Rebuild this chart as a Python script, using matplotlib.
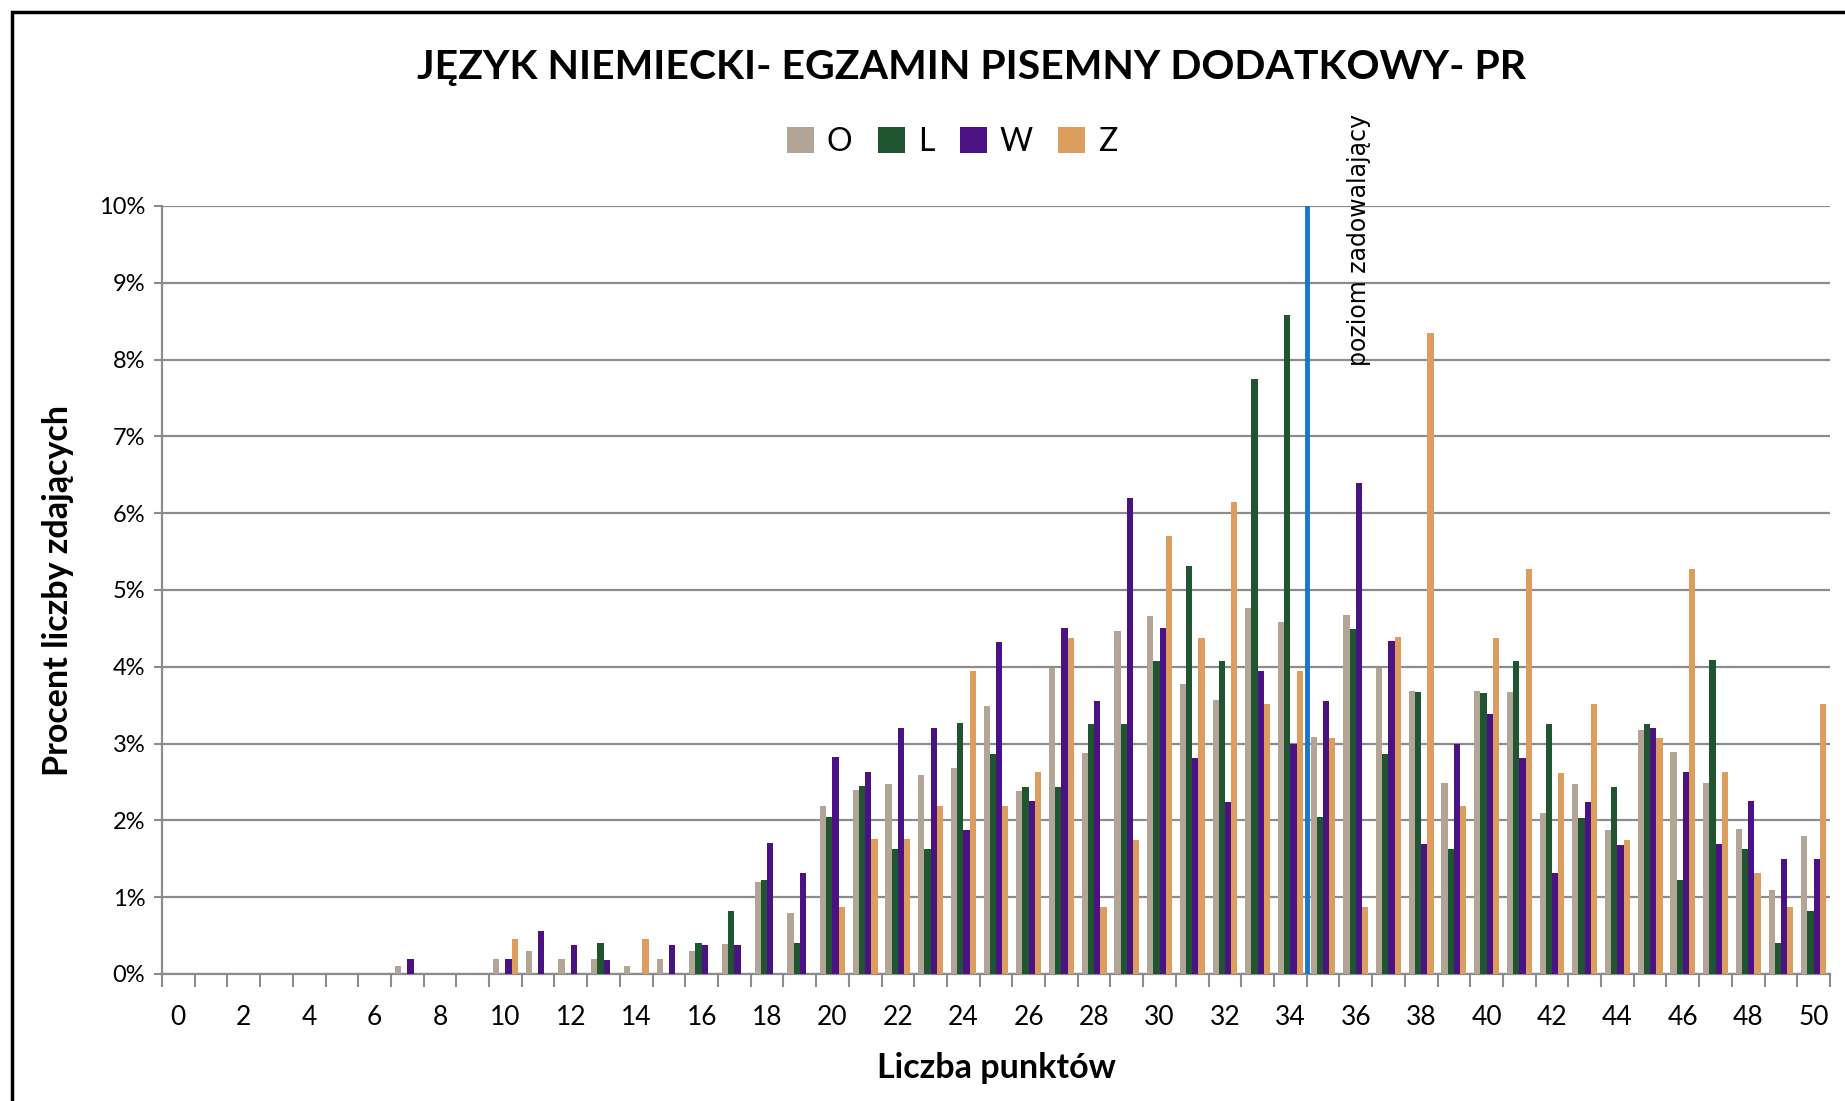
import matplotlib
matplotlib.use("Agg")
import matplotlib.pyplot as plt
import numpy as np
from matplotlib.patches import Rectangle

plt.rcParams['font.family'] = ['Lato', 'DejaVu Sans']

# punkty 0..50
punkty = list(range(0, 51))

# procent zdających
O = [0, 0, 0, 0, 0, 0, 0, 0.1, 0, 0, 0.2, 0.3, 0.2, 0.2, 0.1, 0.2, 0.3, 0.39, 1.2, 0.8,
     2.19, 2.39, 2.48, 2.59, 2.68, 3.49, 2.38, 3.98, 2.88, 4.47, 4.66, 3.78, 3.57, 4.77, 4.58,
     3.08, 4.67, 3.98, 3.68, 2.49, 3.68, 3.67, 2.09, 2.48, 1.88, 3.18, 2.89, 2.49, 1.89, 1.09, 1.8]
L = [0, 0, 0, 0, 0, 0, 0, 0, 0, 0, 0, 0, 0, 0.41, 0, 0, 0.4, 0.82, 1.23, 0.4,
     2.05, 2.45, 1.63, 1.63, 3.27, 2.86, 2.44, 2.44, 3.26, 3.26, 4.08, 5.31, 4.08, 7.75, 8.58,
     2.04, 4.49, 2.86, 3.67, 1.63, 3.66, 4.08, 3.26, 2.03, 2.44, 3.26, 1.23, 4.09, 1.63, 0.4, 0.82]
W = [0, 0, 0, 0, 0, 0, 0, 0.2, 0, 0, 0.2, 0.56, 0.38, 0.18, 0, 0.38, 0.38, 0.38, 1.7, 1.32,
     2.83, 2.63, 3.2, 3.2, 1.87, 4.32, 2.25, 4.51, 3.56, 6.2, 4.51, 2.81, 2.24, 3.94, 3.0,
     3.56, 6.39, 4.33, 1.69, 3.0, 3.38, 2.81, 1.31, 2.24, 1.68, 3.2, 2.63, 1.69, 2.25, 1.5, 1.5]
Z = [0, 0, 0, 0, 0, 0, 0, 0, 0, 0, 0.45, 0, 0, 0, 0.45, 0, 0, 0, 0, 0,
     0.87, 1.76, 1.76, 2.19, 3.94, 2.19, 2.63, 4.38, 0.87, 1.75, 5.7, 4.38, 6.14, 3.51, 3.94,
     3.07, 0.87, 4.39, 8.34, 2.19, 4.38, 5.27, 2.62, 3.51, 1.75, 3.07, 5.27, 2.63, 1.32, 0.87, 3.52]

serie = {"O": O, "L": L, "W": W, "Z": Z}
kolory = {"O": "#b3a596", "L": "#1f5530", "W": "#4a1282", "Z": "#dd9d5f"}

prog = 34.5  # poziom zadowalający

fig = plt.figure(figsize=(18.45, 11.01), dpi=100)
ax = fig.add_axes([162 / 1845, 1 - 974 / 1101, (1830 - 162) / 1845, (974 - 206) / 1101])

x = np.array(punkty)
w = 0.19
for i, (nazwa, wart) in enumerate(serie.items()):
    ax.bar(x + (i - 1.5) * w, [v / 100 for v in wart], width=w, color=kolory[nazwa],
           label=nazwa, zorder=3)

ax.set_xlim(-0.5, 50.5)
ax.set_ylim(0, 0.10)
ax.set_yticks(np.arange(0, 0.1001, 0.01))
ax.set_yticklabels([f"{i}%" for i in range(11)], fontsize=17)
ax.grid(axis='y', color='#8c8c8c', linewidth=1.6, zorder=0)

ax.set_xticks(range(0, 51, 2))
ax.set_xticklabels([str(i) for i in range(0, 51, 2)], fontsize=19)
ax.set_xticks(np.arange(-0.5, 51, 1), minor=True)
ax.tick_params(axis='x', which='major', length=0, pad=22)
ax.tick_params(axis='x', which='minor', length=9, color='#8c8c8c', width=1.5)
ax.tick_params(axis='y', length=6, color='#8c8c8c', width=1.5, pad=6)

for s in ['top', 'right']:
    ax.spines[s].set_visible(False)
for s in ['left', 'bottom']:
    ax.spines[s].set_color('#8c8c8c')
    ax.spines[s].set_linewidth(1.6)

ax.axvline(prog, ymin=0, ymax=1, color='#1b75c9', linewidth=3.5, zorder=4)
ax.text(prog + 1.6, 0.0792, "poziom zadowalający", rotation=90, ha='center', va='bottom',
        fontsize=17, family=['DejaVu Sans'], clip_on=False)

ax.set_xlabel("Liczba punktów", fontsize=24.5, fontweight='bold', labelpad=16)
ax.set_ylabel("Procent liczby zdających", fontsize=24.5, fontweight='bold', labelpad=18)

fig.text(972 / 1845, 1 - 67 / 1101, "JĘZYK NIEMIECKI- EGZAMIN PISEMNY DODATKOWY- PR",
         ha='center', va='center', fontsize=29.5, fontweight='bold')

fig.legend(loc='center', bbox_to_anchor=(952 / 1845, 1 - 142 / 1101), ncol=4, frameon=False,
           fontsize=23, handlelength=0.85, handleheight=0.9, handletextpad=0.4, columnspacing=0.8)

# ramka wykresu
fig.patches.append(Rectangle((12 / 1845, -0.1), 1.2, 1.1 - 12 / 1101, transform=fig.transFigure,
                             fill=False, edgecolor='black', linewidth=2.5))

fig.savefig("out.png", dpi=100)
